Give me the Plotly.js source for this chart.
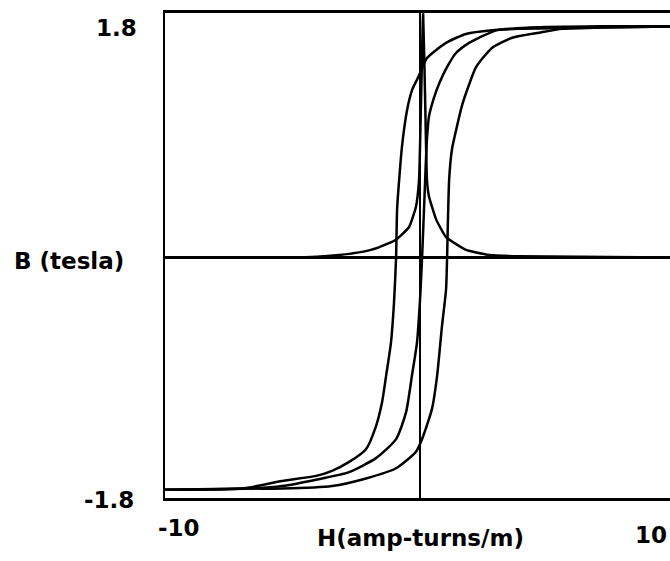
<!DOCTYPE html>
<html>
<head>
<meta charset="utf-8">
<script src="https://cdn.plot.ly/plotly-3.0.1.min.js"></script>
<style>html,body{margin:0;padding:0;background:#fff;}#chart{width:670px;height:561px;}</style>
</head>
<body>
<div id="chart"></div>
<script>
// Outer hysteresis loop, ascending branch (H in amp-turns/m, B in tesla)
var outerAscH = [-10, -6.71, -5.41, -3.45, -2.12, -0.94, -0.16, 0.08, 0.47, 0.67, 0.86, 1.02, 1.06, 1.14, 1.25, 1.41, 1.65, 1.92, 2.20, 2.82, 3.61, 4.67, 5.57, 7.02, 10];
var outerAscB = [-1.83, -1.82, -1.82, -1.80, -1.74, -1.66, -1.53, -1.43, -1.19, -0.93, -0.54, -0.25, 0.0, 0.61, 0.85, 1.00, 1.20, 1.36, 1.50, 1.65, 1.73, 1.77, 1.80, 1.81, 1.82];
// Outer hysteresis loop, descending branch
var outerDescH = [10, 7.02, 3.88, 2.82, 1.80, 1.02, 0.27, 0.04, -0.12, -0.31, -0.51, -0.71, -0.82, -0.90, -0.94, -1.02, -1.14, -1.33, -1.49, -1.73, -2.12, -2.78, -3.45, -4.08, -5.41, -6.98, -10];
var outerDescB = [1.82, 1.81, 1.80, 1.79, 1.76, 1.69, 1.57, 1.47, 1.40, 1.32, 1.16, 0.87, 0.61, 0.38, 0.0, -0.35, -0.67, -0.93, -1.14, -1.33, -1.51, -1.61, -1.68, -1.72, -1.76, -1.82, -1.83];
// Middle (anhysteretic) curve through the origin
var midH = [-10, -6.71, -5.41, -4.08, -2.78, -1.73, -0.94, -0.55, -0.31, -0.12, 0.0, 0.08, 0.20, 0.27, 0.35, 0.55, 0.75, 1.06, 1.41, 1.92, 2.31, 3.02, 4.27, 7.02, 10];
var midB = [-1.83, -1.82, -1.80, -1.75, -1.69, -1.58, -1.43, -1.22, -0.92, -0.67, -0.33, 0.0, 0.61, 0.93, 1.11, 1.26, 1.37, 1.50, 1.61, 1.69, 1.73, 1.79, 1.81, 1.82, 1.82];
// Peaked curve centred near H = 0
var bellH = [-10, -4.75, -3.18, -2.39, -1.61, -0.94, -0.43, -0.16, -0.04, 0.04, 0.12, 0.20, 0.27, 0.35, 0.63, 1.02, 1.80, 2.71, 3.88, 10];
var bellB = [0.0, 0.0, 0.02, 0.04, 0.08, 0.14, 0.24, 0.40, 0.61, 1.24, 1.92, 1.24, 0.61, 0.48, 0.30, 0.16, 0.06, 0.02, 0.01, 0.0];

// Tick labels and titles
var xTickVals = [-10, 10];
var xTickText = ['-10', '10'];
var yTickVals = [1.8, -1.8];
var yTickText = ['1.8', '-1.8'];
var xTitle = 'H(amp-turns/m)';
var yTitle = 'B (tesla)';

function tr(h, b, smooth) {
  return {x: h, y: b, type: 'scatter', mode: 'lines',
          line: {color: '#000', width: 2.5, shape: smooth ? 'spline' : 'linear', smoothing: smooth || 0},
          hoverinfo: 'skip', showlegend: false};
}
var data = [
  tr(outerAscH, outerAscB, 0.6),
  tr(outerDescH, outerDescB, 0.6),
  tr(midH, midB, 0.6),
  tr(bellH, bellB, 0.4)
];

var font = {family: 'DejaVu Sans', size: 23, color: '#000', weight: 'bold'};
var annotations = [];
// y tick labels
annotations.push({xref: 'paper', x: 0, xanchor: 'right', xshift: -26, yref: 'y', y: yTickVals[0], yanchor: 'middle', yshift: 1, text: '<b>' + yTickText[0] + '</b>', showarrow: false, font: font});
annotations.push({xref: 'paper', x: 0, xanchor: 'right', xshift: -29, yref: 'y', y: yTickVals[1], yanchor: 'middle', yshift: -14, text: '<b>' + yTickText[1] + '</b>', showarrow: false, font: font});
// x tick labels
annotations.push({xref: 'x', x: xTickVals[0], xanchor: 'center', xshift: 14, yref: 'paper', y: 0, yanchor: 'middle', yshift: -30, text: '<b>' + xTickText[0] + '</b>', showarrow: false, font: font});
annotations.push({xref: 'paper', x: 1, xanchor: 'right', xshift: -1, yref: 'paper', y: 0, yanchor: 'middle', yshift: -37, text: '<b>' + xTickText[1] + '</b>', showarrow: false, font: font});
// axis titles
annotations.push({xref: 'x', x: 0, xanchor: 'center', yref: 'paper', y: 0, yanchor: 'middle', yshift: -40, text: '<b>' + xTitle + '</b>', showarrow: false, font: font});
annotations.push({xref: 'paper', x: 0, xanchor: 'left', xshift: -153, yref: 'y', y: 0, yanchor: 'middle', yshift: -4, text: '<b>' + yTitle + '</b>', showarrow: false, font: font});

var layout = {
  width: 670, height: 561,
  margin: {l: 165, r: 0, t: 13, b: 63, pad: 0},
  paper_bgcolor: '#fff', plot_bgcolor: '#fff',
  showlegend: false,
  xaxis: {range: [-10, 9.8], showgrid: false, zeroline: true, zerolinecolor: '#000', zerolinewidth: 2,
          showline: true, linecolor: '#000', linewidth: 3, mirror: true, showticklabels: false, ticks: ''},
  yaxis: {range: [-1.894, 1.925], showgrid: false, zeroline: true, zerolinecolor: '#000', zerolinewidth: 3,
          showline: true, linecolor: '#000', linewidth: 2, mirror: false, showticklabels: false, ticks: ''},
  annotations: annotations
};
Plotly.newPlot('chart', data, layout, {displayModeBar: false, staticPlot: true});
</script>
</body>
</html>
